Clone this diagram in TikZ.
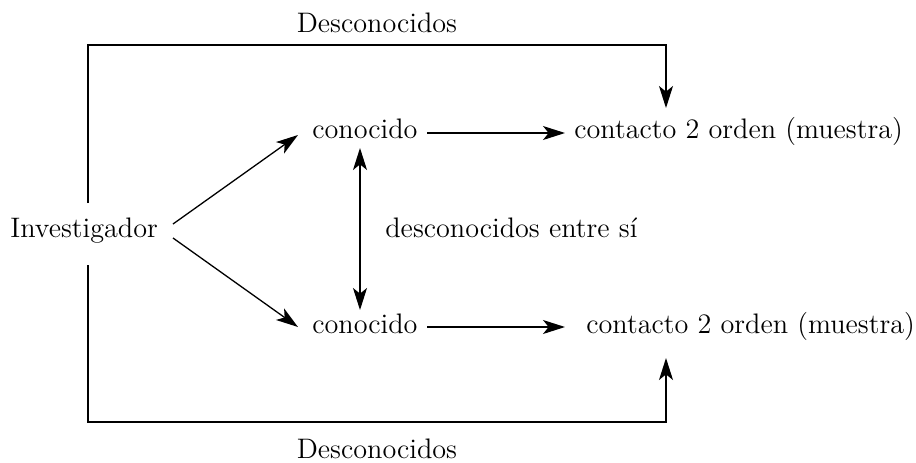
\documentclass[tikz,border=0pt]{standalone}
\usetikzlibrary{arrows.meta}
\begin{document}
\begin{tikzpicture}[x=0.5pt,y=-0.5pt,
  lbl/.style={inner sep=0pt,font=\fontsize{14.1pt}{16pt}\selectfont},
  tip/.tip={Stealth[length=11pt,width=7pt,inset=2.8pt]},
  conn/.style={line width=0.65pt,-tip},
  both/.style={line width=0.65pt,tip-tip}]
\useasboundingbox (0,0) rectangle (916,462);
% nodes
\node[lbl,anchor=base west] (inv) at (10,237) {Investigador};
\node[lbl,anchor=base west] (c1) at (312,138) {conocido};
\node[lbl,anchor=base west] (c2) at (312,333) {conocido};
\node[lbl,anchor=base west] (k1) at (574,138) {contacto 2 orden (muestra)};
\node[lbl,anchor=base west] (k2) at (586,333) {contacto 2 orden (muestra)};
\node[lbl,anchor=base] (d1) at (377,32) {Desconocidos};
\node[lbl,anchor=base] (d2) at (377,458) {Desconocidos};
\node[lbl,anchor=base west] (mid) at (385,237) {desconocidos entre sí};
% connector points
\coordinate (a1s) at (173,224);
\coordinate (a1e) at (298,135);
\coordinate (a2s) at (173,238);
\coordinate (a2e) at (298,327);
\coordinate (h1s) at (427,133);
\coordinate (h1e) at (565,133);
\coordinate (h2s) at (427,327);
\coordinate (h2e) at (565,327);
\coordinate (vt) at (360,148);
\coordinate (vb) at (360,310);
\coordinate (ltop) at (88,203);
\coordinate (lbot) at (88,265);
\coordinate (tl) at (88,45);
\coordinate (tr) at (666,45);
\coordinate (bl) at (88,422);
\coordinate (br) at (666,422);
\coordinate (ttip) at (666,108);
\coordinate (btip) at (666,358);
% connectors
\draw[conn] (a1s) -- (a1e);
\draw[conn] (a2s) -- (a2e);
\draw[conn] (h1s) -- (h1e);
\draw[conn] (h2s) -- (h2e);
\draw[both] (vt) -- (vb);
\draw[conn] (ltop) -- (tl) -- (tr) -- (ttip);
\draw[conn] (lbot) -- (bl) -- (br) -- (btip);
\end{tikzpicture}
\end{document}
